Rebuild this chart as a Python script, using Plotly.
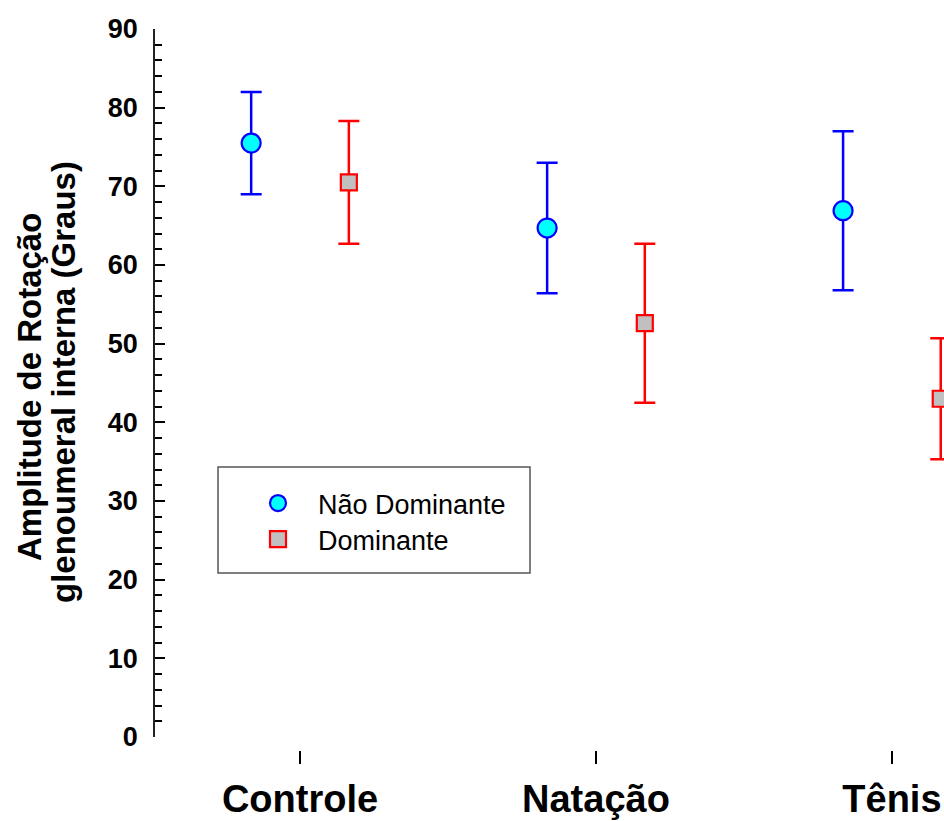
import plotly.graph_objects as go

# ---- data ----
categories = ["Controle", "Natação", "Tênis"]
nao_dominante_mean = [75.5, 64.7, 66.9]
nao_dominante_err = [6.5, 8.3, 10.1]
dominante_mean = [70.5, 52.6, 43.0]
dominante_err = [7.8, 10.1, 7.7]
series_names = ["Não Dominante", "Dominante"]
y_tickvals = [0, 10, 20, 30, 40, 50, 60, 70, 80, 90]
y_title_lines = ["Amplitude de Rotação", "glenoumeral interna (Graus)"]

# ---- layout constants ----
FONT = "Arial, 'Liberation Sans', sans-serif"
OFFSET = 0.165
cat_pos = list(range(len(categories)))

fig = go.Figure()
fig.add_trace(go.Scatter(
    x=[p - OFFSET for p in cat_pos], y=nao_dominante_mean,
    mode="markers", name=series_names[0], legend="legend",
    marker=dict(symbol="circle", size=19, color="#00FFFF",
                line=dict(color="#0000FF", width=2.2)),
    error_y=dict(type="data", array=nao_dominante_err, visible=True,
                 color="#0000FF", thickness=2.5, width=10.5),
))
fig.add_trace(go.Scatter(
    x=[p + OFFSET for p in cat_pos], y=dominante_mean,
    mode="markers", name=series_names[1], legend="legend2",
    marker=dict(symbol="square", size=16, color="#C0C0C0",
                line=dict(color="#FF0000", width=2.2)),
    error_y=dict(type="data", array=dominante_err, visible=True,
                 color="#FF0000", thickness=2.5, width=10.5),
))

W, H = 944, 821
L, R, T, B = 155, 0, 29, 71
plot_w = W - L - R
plot_h = H - T - B
ydom0 = 13 / plot_h


def px_x(px):
    return (px - L) / plot_w


def px_y(py):
    return (H - B - py) / plot_h


title_ann = [
    dict(text=y_title_lines[0], x=px_x(29), y=px_y(387)),
    dict(text=y_title_lines[1], x=px_x(63), y=px_y(382)),
]
annotations = [dict(a, xref="paper", yref="paper", xanchor="center", yanchor="middle",
                    textangle=-90, showarrow=False,
                    font=dict(size=33, family=FONT, color="black", weight="bold"))
               for a in title_ann]

legend_style = dict(xanchor="left", yanchor="top",
                    bgcolor="rgba(0,0,0,0)", borderwidth=0,
                    font=dict(size=27, family=FONT, color="black"),
                    itemwidth=70, tracegroupgap=0)

fig.update_layout(
    width=W, height=H,
    margin=dict(l=L, r=R, t=T, b=B, pad=0),
    paper_bgcolor="white", plot_bgcolor="white",
    font=dict(family=FONT, color="black"),
    showlegend=True,
    legend=dict(legend_style, x=px_x(238), y=px_y(479)),
    legend2=dict(legend_style, x=px_x(238), y=px_y(515)),
    xaxis=dict(
        range=[-0.49, 2.176], anchor="free", position=0, automargin=False,
        showline=False, showgrid=False, zeroline=False,
        tickmode="array", tickvals=cat_pos, ticktext=categories,
        ticks="outside", ticklen=13, tickwidth=1.5, tickcolor="black",
        tickfont=dict(size=38, family=FONT, color="black", weight="bold"),
        ticklabelstandoff=2,
    ),
    yaxis=dict(
        range=[0, 90], domain=[ydom0, 1], automargin=False,
        showline=True, linecolor="#222222", linewidth=1.8,
        showgrid=False, zeroline=False,
        tickmode="array", tickvals=y_tickvals,
        ticks="inside", ticklen=10, tickwidth=1.5, tickcolor="black",
        tickfont=dict(size=27, family=FONT, color="black", weight="bold"),
        ticklabelstandoff=10,
        minor=dict(dtick=2, ticks="inside", ticklen=7, tickwidth=1.5,
                   tickcolor="black", showgrid=False),
    ),
    annotations=annotations,
    shapes=[dict(type="rect", xref="paper", yref="paper",
                 x0=px_x(218), x1=px_x(530), y0=px_y(573), y1=px_y(467),
                 line=dict(color="#555555", width=1.5), fillcolor="rgba(0,0,0,0)")],
)

fig.write_html("out.html", config={"displayModeBar": False},
               post_script="document.body.style.margin='0';")
